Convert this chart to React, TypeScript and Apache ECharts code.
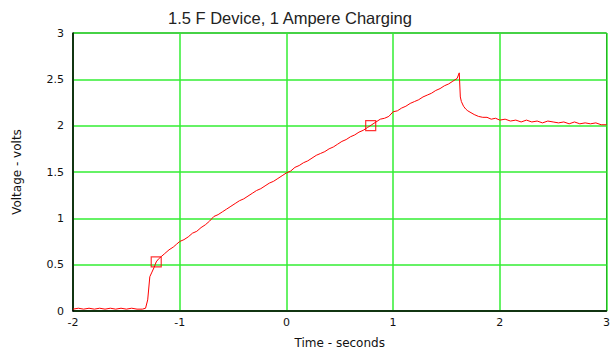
import React, { useEffect, useRef } from "react";
import * as echarts from "echarts";

const timeS = [
  -2.0, -1.95, -1.9, -1.85, -1.8, -1.75, -1.7, -1.65, -1.6, -1.55,
  -1.5, -1.45, -1.4, -1.35, -1.32, -1.3, -1.28, -1.26, -1.24, -1.22,
  -1.2, -1.17, -1.14, -1.1, -1.06, -1.03, -1.0, -0.96, -0.92, -0.88,
  -0.84, -0.8, -0.76, -0.72, -0.68, -0.64, -0.6, -0.56, -0.52, -0.48,
  -0.44, -0.4, -0.36, -0.32, -0.28, -0.24, -0.2, -0.16, -0.12, -0.08,
  -0.04, 0.0, 0.04, 0.08, 0.12, 0.16, 0.2, 0.24, 0.28, 0.32,
  0.36, 0.4, 0.44, 0.48, 0.52, 0.56, 0.6, 0.64, 0.68, 0.72,
  0.76, 0.8, 0.84, 0.88, 0.92, 0.96, 1.0, 1.04, 1.08, 1.12,
  1.16, 1.2, 1.24, 1.28, 1.32, 1.36, 1.4, 1.44, 1.48, 1.52,
  1.56, 1.6, 1.62, 1.63, 1.64, 1.66, 1.68, 1.7, 1.73, 1.76,
  1.8, 1.84, 1.88, 1.92, 1.96, 2.0, 2.05, 2.1, 2.15, 2.2,
  2.25, 2.3, 2.35, 2.4, 2.45, 2.5, 2.55, 2.6, 2.65, 2.7,
  2.75, 2.8, 2.85, 2.9, 2.95, 3.0,
];

const volts = [
  0.02, 0.03, 0.02, 0.03, 0.02, 0.03, 0.02, 0.03, 0.02, 0.03,
  0.02, 0.03, 0.02, 0.02, 0.03, 0.12, 0.37, 0.42, 0.47, 0.53,
  0.56, 0.59, 0.62, 0.66, 0.69, 0.72, 0.75, 0.77, 0.8, 0.84,
  0.86, 0.9, 0.93, 0.97, 1.02, 1.04, 1.07, 1.1, 1.13, 1.16,
  1.19, 1.21, 1.24, 1.27, 1.3, 1.32, 1.35, 1.38, 1.4, 1.43,
  1.46, 1.49, 1.51, 1.55, 1.57, 1.6, 1.62, 1.65, 1.68, 1.7,
  1.72, 1.75, 1.77, 1.8, 1.83, 1.85, 1.88, 1.9, 1.93, 1.95,
  1.98, 2.01, 2.04, 2.07, 2.08, 2.1, 2.15, 2.16, 2.19, 2.21,
  2.24, 2.26, 2.28, 2.31, 2.33, 2.35, 2.38, 2.4, 2.43, 2.45,
  2.48, 2.51, 2.57, 2.31, 2.26, 2.21, 2.18, 2.16, 2.14, 2.12,
  2.1, 2.09, 2.09, 2.07, 2.08, 2.06, 2.07, 2.05, 2.06, 2.04,
  2.06, 2.04, 2.05, 2.03, 2.05, 2.04, 2.03, 2.04, 2.02, 2.04,
  2.02, 2.03, 2.02, 2.03, 2.01, 2.01,
];

const markerT = [-1.22, 0.79];
const markerV = [0.53, 2.0];

const titleText = "1.5 F Device, 1 Ampere Charging";
const xName = "Time - seconds";
const yName = "Voltage - volts";

const FONT = "DejaVu Sans, sans-serif";
const GREEN = "#33ee33";
const RED = "#ff0000";

export default function App() {
  const ref = useRef<HTMLDivElement>(null);
  useEffect(() => {
    if (!ref.current) return;
    const chart = echarts.init(ref.current, null, { renderer: "svg" });
    const lineData = timeS.map((t, i) => [t, volts[i]]);
    const markData = markerT.map((t, i) => [t, markerV[i]]);
    chart.setOption({
      animation: false,
      backgroundColor: "#ffffff",
      grid: {
        left: 73,
        right: 4,
        top: 33,
        bottom: 43,
        show: true,
        borderColor: "#000",
        borderWidth: 1,
      },
      graphic: [
        {
          type: "text",
          x: 290,
          y: 18,
          style: {
            text: titleText,
            fontSize: 16.5,
            fontFamily: "Liberation Sans, Arial, sans-serif",
            fill: "#222",
            textAlign: "center",
            textVerticalAlign: "middle",
          },
        },
      ],
      xAxis: {
        type: "value",
        min: -2,
        max: 3,
        interval: 1,
        name: xName,
        nameLocation: "middle",
        nameGap: 26,
        nameTextStyle: { fontSize: 12, fontFamily: FONT, color: "#111" },
        axisLine: { show: true, onZero: false, lineStyle: { color: "#000", width: 1.5 } },
        axisTick: { show: false },
        axisLabel: { fontSize: 11, fontFamily: FONT, color: "#111", margin: 6 },
        splitLine: { show: true, lineStyle: { color: GREEN, width: 1.5 } },
      },
      yAxis: {
        type: "value",
        min: 0,
        max: 3,
        interval: 0.5,
        name: yName,
        nameLocation: "middle",
        nameGap: 50,
        nameRotate: 90,
        nameTextStyle: { fontSize: 12, fontFamily: FONT, color: "#111" },
        axisLine: { show: true, onZero: false, lineStyle: { color: "#000", width: 1.5 } },
        axisTick: { show: false },
        axisLabel: { fontSize: 11, fontFamily: FONT, color: "#111", margin: 9 },
        splitLine: { show: true, lineStyle: { color: GREEN, width: 1.5 } },
      },
      series: [
        {
          type: "line",
          data: lineData,
          showSymbol: false,
          symbol: "none",
          lineStyle: { color: RED, width: 1 },
          z: 3,
        },
        {
          type: "scatter",
          data: markData,
          symbol: "rect",
          symbolSize: 10,
          itemStyle: { color: "transparent", borderColor: RED, borderWidth: 1.2 },
          z: 4,
        },
      ],
    });
    return () => chart.dispose();
  }, []);
  return (
    <div
      ref={ref}
      style={{ position: "absolute", left: 0, top: 0, width: 613, height: 354 }}
    />
  );
}
